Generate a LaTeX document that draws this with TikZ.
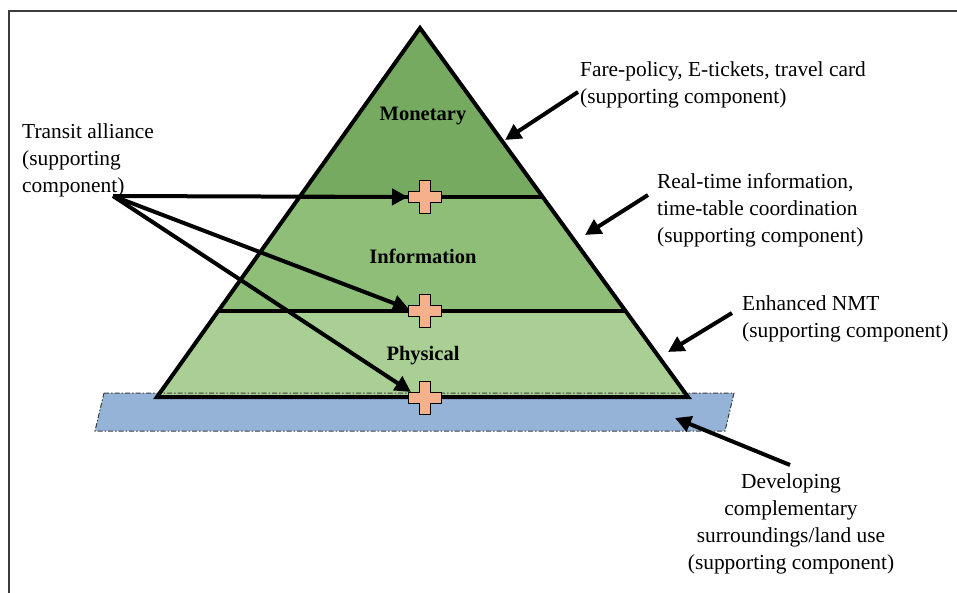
\documentclass[tikz,border=0pt]{standalone}
\usepackage{fontspec}
\setmainfont{Liberation Serif}
\usetikzlibrary{arrows.meta,calc}
\definecolor{gMon}{RGB}{117,170,96}
\definecolor{gInf}{RGB}{143,190,121}
\definecolor{gPhy}{RGB}{170,207,148}
\definecolor{landblue}{RGB}{149,179,215}
\definecolor{plusfill}{RGB}{244,177,140}
\definecolor{framegray}{RGB}{60,60,60}
\begin{document}
\begin{tikzpicture}[x=1pt,y=-1pt,
  lbl/.style={font=\fontsize{21.4}{27}\selectfont, align=left, inner sep=0pt},
  lblc/.style={font=\fontsize{21.4}{27}\selectfont, align=center, inner sep=0pt},
  layer/.style={font=\fontsize{20.5}{24}\selectfont\bfseries, inner sep=0pt},
  arr/.style={line width=4pt, -{Triangle[length=16pt,width=16pt]}},
  outline/.style={line width=4pt, line join=miter},
  divider/.style={line width=3.5pt},
  plussign/.pic={\filldraw[fill=plusfill, draw=black, line width=1.8pt]
     (-5.5,-16.5) -- (5.5,-16.5) -- (5.5,-5.5) -- (16.5,-5.5) -- (16.5,5.5) -- (5.5,5.5)
     -- (5.5,16.5) -- (-5.5,16.5) -- (-5.5,5.5) -- (-16.5,5.5) -- (-16.5,-5.5) -- (-5.5,-5.5) -- cycle;}
]
\useasboundingbox (0,0) rectangle (957,593);
% frame
\draw[framegray, line width=2pt] (9,593) -- (9,11) -- (957,11);

% geometry
\coordinate (apex) at (420,28);
\coordinate (bl) at (157,397);
\coordinate (br) at (688,397);
\coordinate (m1l) at (300,197);
\coordinate (m1r) at (543,197);
\coordinate (m2l) at (219,311);
\coordinate (m2r) at (625,311);

% land parallelogram
\coordinate (q1) at (104,393);
\coordinate (q2) at (734,393);
\coordinate (q3) at (725,431);
\coordinate (q4) at (95,431);
\fill[landblue] (q1) -- (q2) -- (q3) -- (q4) -- cycle;

% pyramid layers
\fill[gMon] (apex) -- (m1r) -- (m1l) -- cycle;
\fill[gInf] (m1l) -- (m1r) -- (m2r) -- (m2l) -- cycle;
\fill[gPhy] (m2l) -- (m2r) -- (br) -- (bl) -- cycle;

\draw[framegray, line width=1pt, dash pattern=on 5pt off 2pt on 1.5pt off 2pt] (q1) -- (q2) -- (q3) -- (q4) -- cycle;

\draw[divider] (m1l) -- (m1r);
\draw[divider] (m2l) -- (m2r);
\draw[outline] (apex) -- (br) -- (bl) -- cycle;

% layer labels
\node[layer] (mon) at (423,116) {Monetary};
\node[layer] (inf) at (423,256) {Information};
\node[layer] (phy) at (423,356) {Physical};

% text labels
\node[lbl, anchor=north west] (transit) at (22,123) {Transit alliance\\(supporting\\component)};
\node[lbl, anchor=north west] (fare) at (580,61) {Fare-policy, E-tickets, travel card\\(supporting component)};
\node[lbl, anchor=north west] (realtime) at (657,173) {Real-time information,\\time-table coordination\\(supporting component)};
\node[lbl, anchor=north west] (nmt) at (742,295) {Enhanced NMT\\(supporting component)};
\node[lblc, anchor=north] (devel) at (791,473) {Developing\\complementary\\surroundings/land use\\(supporting component)};

% arrow coordinates
\coordinate (tA) at (113,196);
\coordinate (p1) at (425,197);
\coordinate (p2) at (425,311);
\coordinate (p3) at (425,398);
\coordinate (e1) at (408,197);
\coordinate (e2) at (409,309);
\coordinate (e3) at (411,392);

\draw[arr] (tA) -- (e1);
\draw[arr] (tA) -- (e2);
\draw[arr] (tA) -- (e3);

\coordinate (fareT) at (578,92);
\coordinate (fareH) at (505,140);
\coordinate (rtT) at (648,195);
\coordinate (rtH) at (585,235);
\coordinate (nmtT) at (732,313);
\coordinate (nmtH) at (668,352);
\coordinate (dvT) at (790,465);
\coordinate (dvH) at (675,418);
\draw[arr] (fareT) -- (fareH);
\draw[arr] (rtT) -- (rtH);
\draw[arr] (nmtT) -- (nmtH);
\draw[arr] (dvT) -- (dvH);

% plus signs
\pic (plus1) at (p1) {plussign};
\pic (plus2) at (p2) {plussign};
\pic (plus3) at (p3) {plussign};
\end{tikzpicture}
\end{document}
